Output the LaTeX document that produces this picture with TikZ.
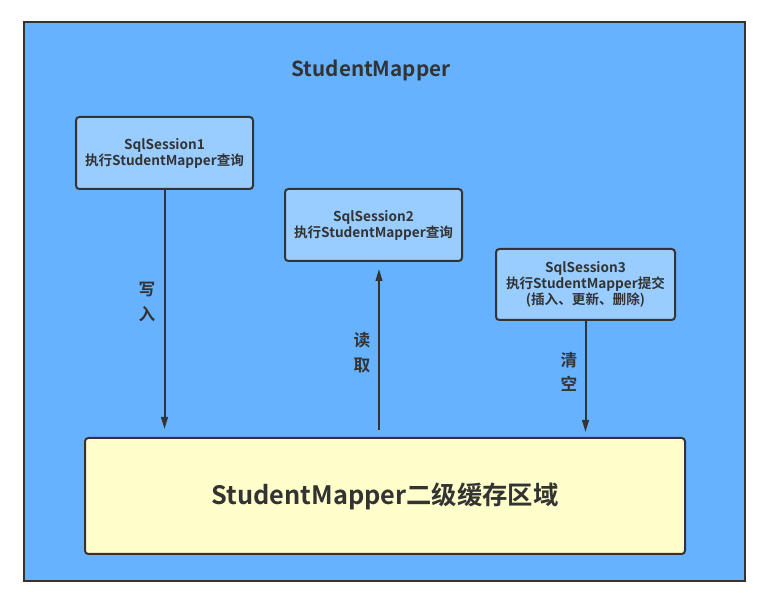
\documentclass[tikz,border=0pt]{standalone}
\usepackage{fontspec}
\setmainfont{Noto Sans CJK SC}[BoldFont={Noto Sans CJK SC Bold}]
\usetikzlibrary{arrows.meta,calc}
\definecolor{outerblue}{HTML}{66B2FF}
\definecolor{boxblue}{HTML}{99CCFF}
\definecolor{cacheyellow}{HTML}{FFFFCC}
\definecolor{ink}{HTML}{333333}
\begin{document}
\begin{tikzpicture}[x=0.75pt,y=-0.75pt,
  sessbox/.style={draw=ink,line width=1.5pt,fill=boxblue,rounded corners=2.5pt,align=center,
     text=ink,font=\fontsize{10.2}{12}\selectfont\bfseries,inner sep=0pt},
  conn/.style={draw=ink,line width=1.5pt,-{Triangle[length=9pt,width=5pt]}},
  vlabel/.style={text=ink,font=\fontsize{12.5}{18.5}\selectfont\bfseries,align=center,inner sep=0pt}]
\useasboundingbox (0,0) rectangle (772,598);
\fill[white] (0,0) rectangle (772,598);
\node[draw=ink,line width=1.5pt,fill=outerblue,minimum width=721*0.75pt,minimum height=559*0.75pt,inner sep=0pt] (outer) at (384.5,301.5) {};
\node[text=ink,font=\fontsize{15.5}{18}\selectfont\bfseries] (title) at (371,70) {StudentMapper};
\node[sessbox,minimum width=177*0.75pt,minimum height=72*0.75pt] (s1) at (164.5,153) {SqlSession1\\执行StudentMapper查询};
\node[sessbox,minimum width=177*0.75pt,minimum height=72*0.75pt] (s2) at (373.5,225) {SqlSession2\\执行StudentMapper查询};
\node[sessbox,minimum width=179*0.75pt,minimum height=71*0.75pt] (s3) at (585.5,284.5) {SqlSession3\\执行StudentMapper提交\\(插入、更新、删除)};
\node[draw=ink,line width=1.5pt,fill=cacheyellow,rounded corners=2.5pt,minimum width=600*0.75pt,minimum height=116*0.75pt,inner sep=0pt,
  text=ink,font=\fontsize{19}{22}\selectfont\bfseries] (cache) at (385,496) {StudentMapper二级缓存区域};
\coordinate (a2top) at ($(s2.south)+(5.5,0)$);
\coordinate (a2bot) at (a2top |- cache.north);
\draw[conn,shorten >=8*0.75pt] (s1.south) -- (s1.south |- cache.north);
\draw[conn,shorten >=7*0.75pt,shorten <=7*0.75pt] (a2bot) -- (a2top);
\draw[conn,shorten >=5*0.75pt] (s3.south) -- (s3.south |- cache.north);
\node[vlabel] (l1) at (147,302) {写\\入};
\node[vlabel] (l2) at (362,353) {读\\取};
\node[vlabel] (l3) at (569,372) {清\\空};
\end{tikzpicture}
\end{document}
